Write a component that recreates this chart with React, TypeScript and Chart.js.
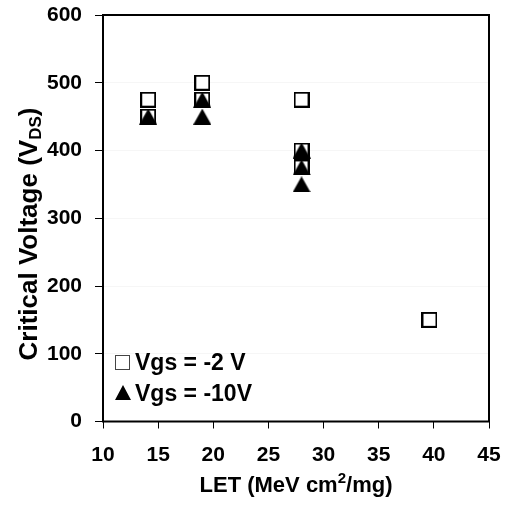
import React, { useEffect, useRef } from 'react';
import { Chart, registerables } from 'chart.js';

Chart.register(...registerables);

// ---- data ----
const xTickValues = [10, 15, 20, 25, 30, 35, 40, 45];
const yTickValues = [0, 100, 200, 300, 400, 500, 600];
const vgs2LET = [14.1, 14.1, 19.0, 19.0, 28.0, 28.0, 28.0, 39.6];
const vgs2Volt = [475, 450, 500, 475, 475, 400, 375, 150];
const vgs10LET = [14.1, 19.0, 19.0, 28.0, 28.0, 28.0];
const vgs10Volt = [450, 475, 450, 400, 375, 350];
const legendLabels = ['Vgs = -2 V', 'Vgs = -10V'];
const xTitleParts = ['LET (MeV cm', '2', '/mg)'];
const yTitleParts = ['Critical Voltage (V', 'DS', ')'];

const FONT_FAMILY = '"Liberation Sans", Arial, Helvetica, sans-serif';

function makeSquare(): HTMLCanvasElement {
  const c = document.createElement('canvas');
  c.width = 16;
  c.height = 16;
  const g = c.getContext('2d')!;
  g.fillStyle = '#ffffff';
  g.fillRect(0, 0, 16, 16);
  g.strokeStyle = '#000000';
  g.lineWidth = 2;
  g.strokeRect(1, 1, 14, 14);
  return c;
}

function makeTriangle(): HTMLCanvasElement {
  const c = document.createElement('canvas');
  c.width = 18;
  c.height = 16;
  const g = c.getContext('2d')!;
  g.fillStyle = '#000000';
  g.beginPath();
  g.moveTo(9, 0);
  g.lineTo(18, 16);
  g.lineTo(0, 16);
  g.closePath();
  g.fill();
  return c;
}

const zeroPad = (s: any) => {
  s.paddingTop = 0;
  s.paddingBottom = 0;
  s.paddingLeft = 0;
  s.paddingRight = 0;
};

export default function App() {
  const canvasRef = useRef<HTMLCanvasElement | null>(null);

  useEffect(() => {
    const canvas = canvasRef.current;
    if (!canvas) return;
    const sq = makeSquare();
    const tri = makeTriangle();

    const decor = {
      id: 'decor',
      beforeDatasetsDraw(chart: any) {
        const { ctx, chartArea: a } = chart;
        ctx.save();
        ctx.strokeStyle = '#000';
        ctx.lineWidth = 2;
        ctx.strokeRect(a.left, a.top, a.right - a.left, a.bottom - a.top);
        ctx.restore();
      },
      afterDraw(chart: any) {
        const { ctx, chartArea: a } = chart;
        ctx.save();
        ctx.fillStyle = '#000';
        ctx.textBaseline = 'alphabetic';
        ctx.textAlign = 'left';

        // x title
        const xBig = `bold 22px ${FONT_FAMILY}`;
        const xSmall = `bold 15px ${FONT_FAMILY}`;
        ctx.font = xBig;
        const w0 = ctx.measureText(xTitleParts[0]).width;
        const w2 = ctx.measureText(xTitleParts[2]).width;
        ctx.font = xSmall;
        const w1 = ctx.measureText(xTitleParts[1]).width;
        let x = (a.left + a.right) / 2 - (w0 + w1 + w2) / 2;
        const by = 492;
        ctx.font = xBig;
        ctx.fillText(xTitleParts[0], x, by);
        x += w0;
        ctx.font = xSmall;
        ctx.fillText(xTitleParts[1], x, by - 9);
        x += w1;
        ctx.font = xBig;
        ctx.fillText(xTitleParts[2], x, by);

        // y title (rotated)
        const yBig = `bold 26px ${FONT_FAMILY}`;
        const ySmall = `bold 17px ${FONT_FAMILY}`;
        ctx.save();
        ctx.translate(37, 234);
        ctx.rotate(-Math.PI / 2);
        ctx.font = yBig;
        const y0 = ctx.measureText(yTitleParts[0]).width;
        const y2 = ctx.measureText(yTitleParts[2]).width;
        ctx.font = ySmall;
        const y1 = ctx.measureText(yTitleParts[1]).width;
        let t = -(y0 + y1 + y2) / 2;
        ctx.font = yBig;
        ctx.fillText(yTitleParts[0], t, 0);
        t += y0;
        ctx.font = ySmall;
        ctx.fillText(yTitleParts[1], t, 4);
        t += y1;
        ctx.font = yBig;
        ctx.fillText(yTitleParts[2], t, 0);
        ctx.restore();

        // legend
        ctx.font = `bold 23px ${FONT_FAMILY}`;
        ctx.fillStyle = '#fff';
        ctx.fillRect(115, 355, 15, 15);
        ctx.strokeStyle = '#444';
        ctx.lineWidth = 1;
        ctx.strokeRect(115.5, 355.5, 14, 14);
        ctx.fillStyle = '#000';
        ctx.fillText(legendLabels[0], 135, 370);
        ctx.beginPath();
        ctx.moveTo(123, 385);
        ctx.lineTo(131, 400);
        ctx.lineTo(115, 400);
        ctx.closePath();
        ctx.fill();
        ctx.fillText(legendLabels[1], 135, 401);
        ctx.restore();
      },
    };

    const chart = new Chart(canvas, {
      type: 'scatter',
      data: {
        datasets: [
          {
            label: legendLabels[1],
            data: vgs10LET.map((v, i) => ({ x: v, y: vgs10Volt[i] })),
            pointStyle: tri as any,
            order: 0,
          },
          {
            label: legendLabels[0],
            data: vgs2LET.map((v, i) => ({ x: v, y: vgs2Volt[i] })),
            pointStyle: sq as any,
            order: 1,
          },
        ],
      },
      options: {
        animation: false,
        responsive: false,
        maintainAspectRatio: false,
        layout: { padding: { top: 15, right: 20, left: 0, bottom: 0 } },
        plugins: {
          legend: { display: false },
          tooltip: { enabled: false },
        },
        scales: {
          x: {
            type: 'linear',
            position: 'bottom',
            min: 10,
            max: 45,
            afterBuildTicks: (s: any) => {
              s.ticks = xTickValues.map((v) => ({ value: v }));
            },
            afterFit: (s: any) => {
              s.height = 84.5;
              zeroPad(s);
            },
            grid: {
              drawOnChartArea: false,
              tickLength: 7,
              tickColor: '#000',
              tickWidth: 1,
            },
            border: { display: false },
            ticks: {
              color: '#000',
              padding: 14,
              maxRotation: 0,
              autoSkip: false,
              font: { family: FONT_FAMILY, size: 21, weight: 'bold' },
            },
          },
          y: {
            type: 'linear',
            min: 0,
            max: 600,
            afterBuildTicks: (s: any) => {
              s.ticks = yTickValues.map((v) => ({ value: v }));
            },
            afterFit: (s: any) => {
              s.width = 103;
              zeroPad(s);
            },
            grid: {
              color: 'rgba(0,0,0,0.035)',
              tickLength: 8,
              tickColor: '#000',
              tickWidth: 1,
            },
            border: { display: false },
            ticks: {
              color: '#000',
              padding: 13,
              autoSkip: false,
              font: { family: FONT_FAMILY, size: 21, weight: 'bold' },
            },
          },
        },
      } as any,
      plugins: [decor],
    });

    return () => chart.destroy();
  }, []);

  return (
    <div style={{ position: 'fixed', left: 0, top: 0, width: 509, height: 506, background: '#fff' }}>
      <canvas ref={canvasRef} width={509} height={506} style={{ display: 'block' }} />
    </div>
  );
}
